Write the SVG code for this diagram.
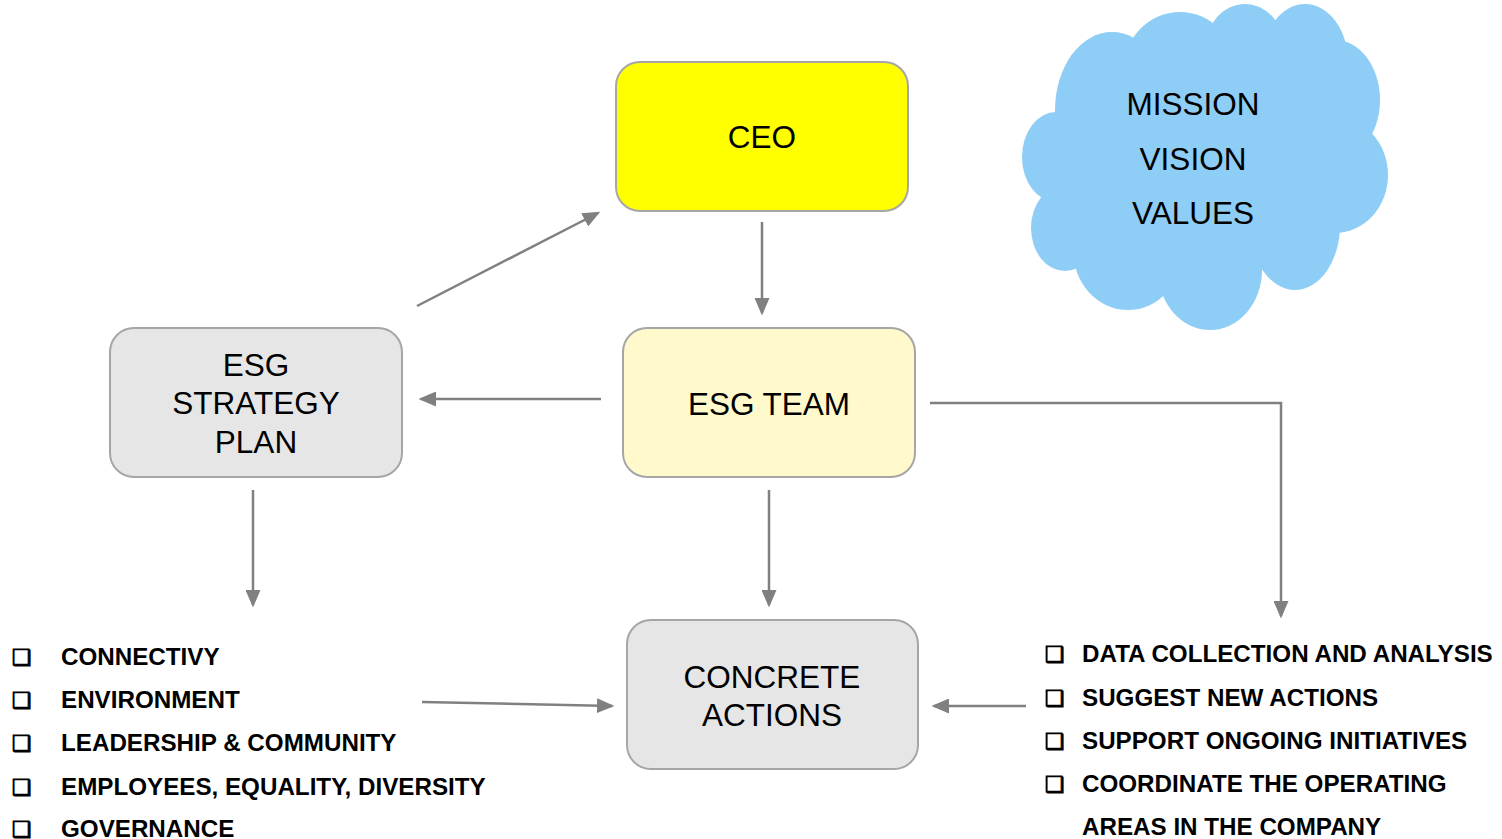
<svg xmlns="http://www.w3.org/2000/svg" width="1502" height="839" viewBox="0 0 1502 839">
<style>
.node{stroke:#a6a6a6;stroke-width:2}
.lbl{font-family:"Liberation Sans",Arial,sans-serif;font-size:31.5px;fill:#000;text-anchor:middle}
.item{font-family:"Liberation Sans",Arial,sans-serif;font-size:24.2px;font-weight:bold;fill:#000}
.bul{font-family:"DejaVu Sans",sans-serif;font-size:22px;font-weight:bold;fill:#000;stroke:#000;stroke-width:0.9}
.conn{stroke:#808080;stroke-width:2.5;fill:none;marker-end:url(#ah)}
.cloud{fill:#8ecdf5}
</style>
<defs>
<marker id="ah" markerWidth="7" markerHeight="6" refX="6" refY="3" orient="auto" markerUnits="strokeWidth">
<path d="M0,0 L7,3 L0,6 Z" fill="#808080"/>
</marker>
</defs>
<rect width="1502" height="839" fill="#fff"/>
<g id="cloud">
<g class="cloud">
<ellipse cx="1205" cy="165" rx="140" ry="115"/>
<ellipse cx="1112" cy="110" rx="57" ry="78"/>
<ellipse cx="1180" cy="72" rx="57" ry="60"/>
<ellipse cx="1245" cy="50" rx="40" ry="46"/>
<ellipse cx="1305" cy="62" rx="43" ry="58"/>
<ellipse cx="1335" cy="100" rx="45" ry="60"/>
<ellipse cx="1335" cy="175" rx="53" ry="58"/>
<ellipse cx="1295" cy="225" rx="45" ry="65"/>
<ellipse cx="1210" cy="270" rx="52" ry="60"/>
<ellipse cx="1128" cy="250" rx="55" ry="60"/>
<ellipse cx="1065" cy="228" rx="34" ry="43"/>
<ellipse cx="1056" cy="157" rx="34" ry="45"/>
</g>
<text class="lbl" x="1193" y="115">MISSION</text>
<text class="lbl" x="1193" y="170">VISION</text>
<text class="lbl" x="1193" y="224">VALUES</text>
</g>
<g id="ceo">
<rect class="node" x="616" y="62" width="292" height="149" rx="24" fill="#ffff00"/>
<text class="lbl" x="762" y="148">CEO</text>
</g>
<g id="strategy">
<rect class="node" x="110" y="328" width="292" height="149" rx="24" fill="#e6e6e6"/>
<text class="lbl" x="256" y="376">ESG</text>
<text class="lbl" x="256" y="414">STRATEGY</text>
<text class="lbl" x="256" y="453">PLAN</text>
</g>
<g id="team">
<rect class="node" x="623" y="328" width="292" height="149" rx="24" fill="#fff9cc"/>
<text class="lbl" x="769" y="415">ESG TEAM</text>
</g>
<g id="actions">
<rect class="node" x="627" y="620" width="291" height="149" rx="24" fill="#e6e6e6"/>
<text class="lbl" x="772" y="688">CONCRETE</text>
<text class="lbl" x="772" y="726">ACTIONS</text>
</g>
<g id="left-list">
<text class="bul" x="12" y="665">❑</text><text class="item" x="61" y="665">CONNECTIVY</text>
<text class="bul" x="12" y="708">❑</text><text class="item" x="61" y="708">ENVIRONMENT</text>
<text class="bul" x="12" y="751">❑</text><text class="item" x="61" y="751">LEADERSHIP &amp; COMMUNITY</text>
<text class="bul" x="12" y="795">❑</text><text class="item" x="61" y="795">EMPLOYEES, EQUALITY, DIVERSITY</text>
<text class="bul" x="12" y="837">❑</text><text class="item" x="61" y="837">GOVERNANCE</text>
</g>
<g id="right-list">
<text class="bul" x="1045" y="662">❑</text><text class="item" x="1082" y="662">DATA COLLECTION AND ANALYSIS</text>
<text class="bul" x="1045" y="706">❑</text><text class="item" x="1082" y="706">SUGGEST NEW ACTIONS</text>
<text class="bul" x="1045" y="749">❑</text><text class="item" x="1082" y="749">SUPPORT ONGOING INITIATIVES</text>
<text class="bul" x="1045" y="792">❑</text><text class="item" x="1082" y="792">COORDINATE THE OPERATING</text>
<text class="item" x="1082" y="835">AREAS IN THE COMPANY</text>
</g>
<g id="connectors">
<path class="conn" d="M417,306 L598,213"/>
<path class="conn" d="M762,222 L762,313"/>
<path class="conn" d="M601,399 L421,399"/>
<path class="conn" d="M769,490 L769,605"/>
<path class="conn" d="M930,403 L1281,403 L1281,616"/>
<path class="conn" d="M253,490 L253,605"/>
<path class="conn" d="M422,702 L612,706"/>
<path class="conn" d="M1026,706 L934,706"/>
</g>
</svg>
